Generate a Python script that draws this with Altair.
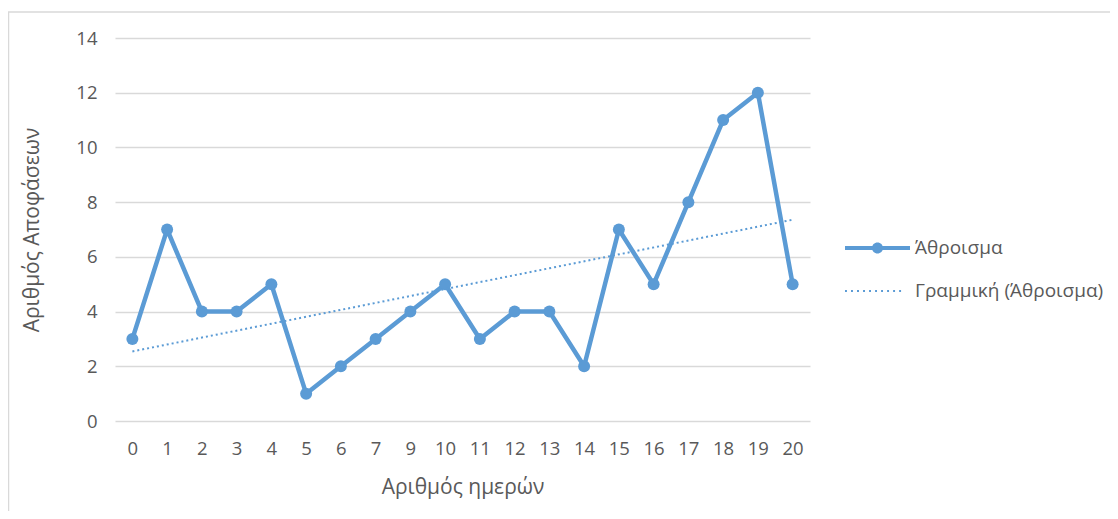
import altair as alt
import pandas as pd

# ---- data ----
days = ["0", "1", "2", "3", "4", "5", "6", "7", "9", "10",
        "11", "12", "13", "14", "15", "16", "17", "18", "19", "20"]
decisions = [3, 7, 4, 4, 5, 1, 2, 3, 4, 5, 3, 4, 4, 2, 7, 5, 8, 11, 12, 5]
series_names = ["Άθροισμα", "Γραμμική (Άθροισμα)"]
y_ticks = [0, 2, 4, 6, 8, 10, 12, 14]

# ---- styling ----
BLUE = "#5B9BD5"
GRID = "#D9D9D9"
TEXT = "#595959"
FONT = "Open Sans"
FS_LABEL = 18.5
FS_TITLE = 21
FS_LEGEND = 19
W, H = 695, 383

df = pd.DataFrame({"idx": list(range(len(days))), "day": days, "value": decisions})
label_expr = "[" + ",".join(f"'{d}'" for d in days) + "][datum.value]"

x = alt.X(
    "idx:Q",
    scale=alt.Scale(domain=[-0.5, len(days) - 0.5], nice=False, zero=False),
    axis=alt.Axis(values=list(range(len(days))), labelExpr=label_expr,
                  title="Αριθμός ημερών", grid=False, domain=False, ticks=False,
                  labelPadding=18, labelFlush=False, titleX=W / 2, titleY=66,
                  titleBaseline="middle", titleAlign="center"),
)
y = alt.Y(
    "value:Q",
    scale=alt.Scale(domain=[0, 14], nice=False, zero=True),
    axis=alt.Axis(values=y_ticks, title="Αριθμός Αποφάσεων", grid=True,
                  gridColor=GRID, gridWidth=1.3, domain=False, ticks=False,
                  labelPadding=18, titleX=-83, titleY=H / 2, titleAngle=-90,
                  titleBaseline="middle", titleAlign="center"),
)

# legend symbol shapes (unit coords, scaled by sqrt(size)/2)
r = 0.17
p_line = (f"M-1,-0.065 L1,-0.065 L1,0.065 L-1,0.065 Z "
          f"M-{r},0 A{r},{r} 0 1,1 {r},0 A{r},{r} 0 1,1 -{r},0 Z")
dots = []
pos = -1.0
while pos < 0.85:
    dots.append(f"M{pos:.3f},-0.03 L{pos + 0.06:.3f},-0.03 L{pos + 0.06:.3f},0.03 L{pos:.3f},0.03 Z")
    pos += 0.185
p_dot = " ".join(dots)

frame_df = pd.DataFrame({"k": [0]})
left_border = alt.Chart(frame_df).mark_rule(color=GRID, strokeWidth=1.5).encode(
    x=alt.value(-106.5), y=alt.value(-26), y2=alt.value(H + 120))
top_border = alt.Chart(frame_df).mark_rule(color=GRID, strokeWidth=1.5).encode(
    x=alt.value(-107), x2=alt.value(W + 320), y=alt.value(-26))

main_line = alt.Chart(df).mark_line(color=BLUE, strokeWidth=4.5, strokeJoin="round").encode(x=x, y=y)
points = alt.Chart(df).mark_point(filled=True, size=144, color=BLUE, opacity=1).encode(x=x, y=y)
trend = alt.Chart(df).transform_regression(
    "idx", "value", extent=[0, len(days) - 1]
).mark_line(color=BLUE, strokeWidth=2, strokeDash=[2, 3]).encode(x=x, y=y)

legend_df = pd.DataFrame({"series": series_names})
legend_layer = alt.Chart(legend_df).transform_filter("false").mark_point(
    filled=True, opacity=1, color=BLUE, fill=BLUE
).encode(
    shape=alt.Shape(
        "series:N",
        scale=alt.Scale(domain=series_names, range=[p_line, p_dot]),
        legend=alt.Legend(title=None, orient="none", legendX=730, legendY=200,
                          symbolSize=4225, symbolFillColor=BLUE, symbolStrokeWidth=0,
                          symbolOpacity=1, clipHeight=20, rowPadding=23, labelOffset=5,
                          labelFont=FONT, labelFontSize=FS_LEGEND, labelColor=TEXT,
                          labelLimit=400, padding=0),
    )
)

chart = alt.layer(
    left_border, top_border, main_line, points, trend, legend_layer
).properties(
    width=W, height=H,
    padding={"left": 107, "top": 30, "right": 300, "bottom": 90},
    autosize="none",
    background="white",
).configure_view(stroke=None).configure_axis(
    labelFont=FONT, labelFontSize=FS_LABEL, labelColor=TEXT,
    titleFont=FONT, titleFontSize=FS_TITLE, titleColor=TEXT, titleFontWeight="normal",
)

chart.save("out.html", embed_options={"renderer": "svg", "actions": False})
